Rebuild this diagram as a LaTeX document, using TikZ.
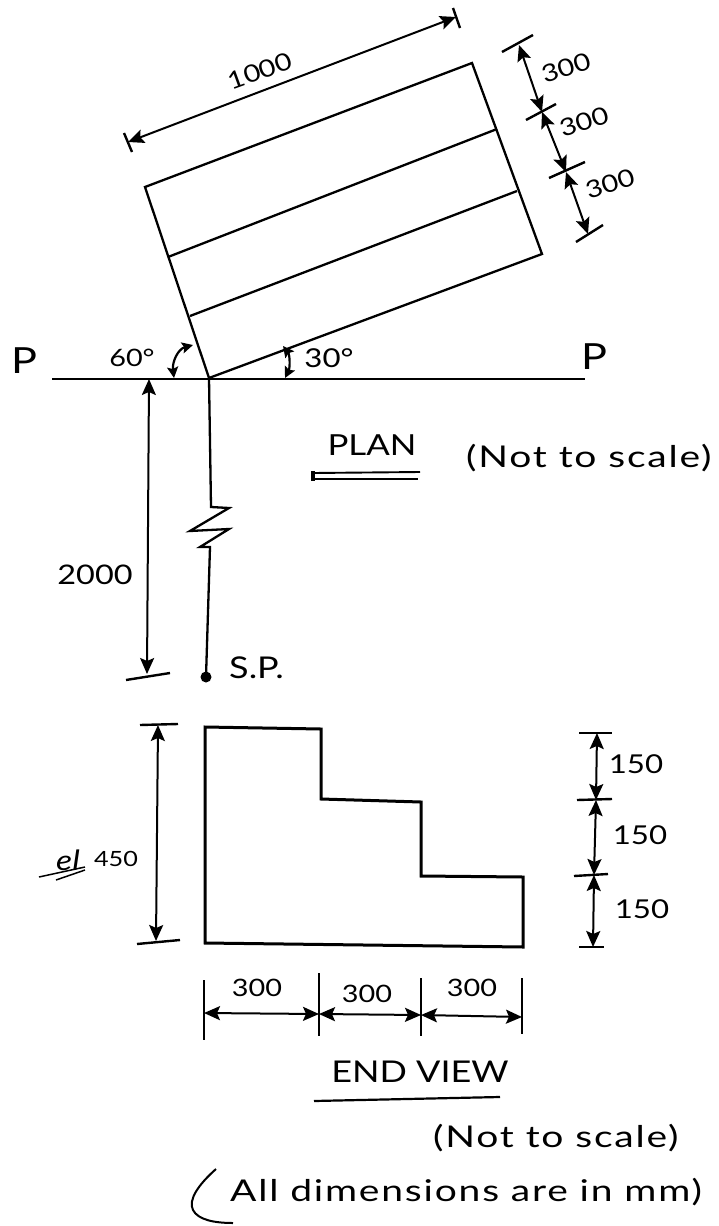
\documentclass[tikz,border=0pt]{standalone}
\usepackage{fontspec}
\usepackage{tikz}
\usetikzlibrary{arrows.meta}
\newfontfamily\handfont[FakeStretch=1.2]{Lato}
\newfontfamily\handwide[FakeStretch=1.3,LetterSpace=6]{Lato}
\tikzset{
    edgeline/.style={line width=2.3pt},
    heavyline/.style={line width=3pt},
    dimline/.style={{Stealth[length=16pt,width=14pt,inset=3pt]}-{Stealth[length=16pt,width=14pt,inset=3pt]},line width=2pt},
    arcline/.style={{Stealth[length=11pt,width=11pt,inset=2pt]}-{Stealth[length=11pt,width=11pt,inset=2pt]},line width=2.2pt},
    tickline/.style={line width=2.4pt},
    hand/.style={inner sep=0pt,font=\handfont\fontsize{24}{26}\selectfont},
    handnum/.style={inner sep=0pt,font=\handfont\fontsize{26}{28}\selectfont},
    handbig/.style={inner sep=0pt,font=\handfont\fontsize{30}{32}\selectfont},
    handnote/.style={inner sep=0pt,font=\handwide\fontsize{30}{32}\selectfont},
}
\begin{document}
\begin{tikzpicture}[x=1pt,y=-1pt]
    \useasboundingbox (0,0) rectangle (719,1226);

    \coordinate (o) at (209,378);
    \coordinate (a) at (145,187);
    \coordinate (b) at (472,63);
    \coordinate (c) at (542,254);
    \draw[edgeline] (o) -- (a) -- (b) -- (c) -- cycle;
    \draw[edgeline] (168,257) -- (497,129);
    \draw[edgeline] (190,316) -- (517,191);
    \draw[edgeline] (52,379) -- (585,379);

    \draw[dimline] (128,142) -- (456,17);
    \draw[tickline] (124,133) -- (132,152);
    \draw[tickline] (453,8) -- (460,28);
    \node[hand,rotate=20] (len) at (260,71) {1000};

    \draw[tickline] (502,52) -- (533,35);
    \draw[tickline] (526,120) -- (556,104);
    \draw[tickline] (549,178) -- (585,162);
    \draw[tickline] (576,242) -- (603,225);
    \draw[dimline] (519,45) -- (542,112);
    \draw[dimline] (542,112) -- (566,172);
    \draw[dimline] (566,172) -- (588,234);
    \node[hand,rotate=18] (wa) at (566,68) {300};
    \node[hand,rotate=18] (wb) at (584,122) {300};
    \node[hand,rotate=18] (wc) at (610,184) {300};

    \draw[arcline] (193,345) .. controls (178,349) and (172,362) .. (174,378);
    \draw[arcline] (283,346) .. controls (290,355) and (290,368) .. (285,378);
    \node[inner sep=0pt,font=\handfont\fontsize{36}{38}\selectfont] (pl) at (24,361) {P};
    \node[inner sep=0pt,font=\handfont\fontsize{36}{38}\selectfont] (pr) at (594,357) {P};
    \node[hand] (angl) at (132,358) {60°};
    \node[handnum] (angr) at (329,358) {30°};

    \draw[edgeline] (o) -- (211,507) -- (229,508) -- (190,531) -- (229,529) -- (200,547) -- (210,547) -- (206,677);
    \fill (206,677) circle (5.5);
    \node[handbig,anchor=west] (sp) at (229,668) {S.P.};

    \draw[dimline] (149,379) -- (147,674);
    \draw[tickline] (126,680) -- (170,673);
    \node[font=\handfont\fontsize{27}{29}\selectfont,inner sep=0pt] (dist) at (95,575) {2000};

    \node[inner sep=0pt,font=\handfont\fontsize{29}{31}\selectfont] (plan) at (372,445) {PLAN};
    \draw[line width=1.9pt] (313,473) -- (420,472);
    \draw[line width=1.9pt] (313,479) -- (418,479);
    \draw[line width=4pt] (313,471) -- (313,481);
    \node[handnote,anchor=west] (nota) at (466,458) {(Not to scale)};

    \draw[heavyline] (205,727) -- (321,729) -- (321,799) -- (421,802) -- (421,876) -- (523,877) -- (523,947) -- (205,943) -- cycle;

    \draw[dimline] (158,725) -- (156,941);
    \draw[tickline] (140,725) -- (178,724);
    \draw[tickline] (137,944) -- (180,940);
    \node[inner sep=0pt,font=\handfont\itshape\fontsize{28}{30}\selectfont] (el) at (68,860) {el};
    \draw[line width=1.5pt] (39,877) -- (85,867);
    \draw[line width=1.5pt] (56,880) -- (85,870);
    \node[inner sep=0pt,font=\handfont\fontsize{21}{23}\selectfont] (ht) at (116,859) {450};

    \draw[tickline] (579,733) -- (612,733);
    \draw[tickline] (577,800) -- (612,799);
    \draw[tickline] (574,876) -- (608,874);
    \draw[tickline] (579,947) -- (604,947);
    \draw[dimline] (597,733) -- (596,800);
    \draw[dimline] (596,800) -- (594,875);
    \draw[dimline] (594,875) -- (593,947);
    \node[handnum] (ra) at (636,764) {150};
    \node[handnum] (rb) at (640,835) {150};
    \node[handnum] (rc) at (642,909) {150};

    \draw[tickline] (204,980) -- (204,1040);
    \draw[tickline] (319,973) -- (319,1036);
    \draw[tickline] (421,978) -- (421,1036);
    \draw[tickline] (522,978) -- (522,1034);
    \draw[dimline] (204,1013) -- (319,1014);
    \draw[dimline] (319,1014) -- (421,1015);
    \draw[dimline] (421,1015) -- (522,1017);
    \node[hand] (ba) at (257,988) {300};
    \node[hand] (bb) at (367,994) {300};
    \node[hand] (bc) at (472,988) {300};

    \node[handbig] (endv) at (420,1072) {END VIEW};
    \draw[line width=2.2pt] (314,1101) -- (500,1097);
    \node[handnote,anchor=west] (notb) at (433,1138) {(Not to scale)};

    \draw[line width=2pt] (216,1169) .. controls (198,1185) and (188,1200) .. (193,1210) .. controls (198,1220) and (215,1223) .. (233,1223);
    \node[handnote,anchor=west] (note) at (230,1192) {All dimensions are in mm)};
\end{tikzpicture}
\end{document}
